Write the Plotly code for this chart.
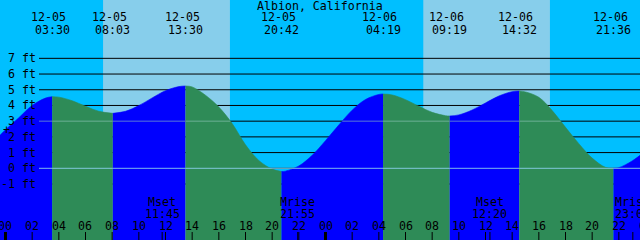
import plotly.graph_objects as go

W, H = 640, 240
FONT = "DejaVu Sans Mono"
FS = 11.6

title = "Albion, California"

# tide extremes
ext_stamp = ["12-05 03:30", "12-05 08:03", "12-05 13:30", "12-05 20:42",
             "12-06 04:19", "12-06 09:19", "12-06 14:32", "12-06 21:36"]
ext_ft = [4.56, 3.50, 5.24, -0.20, 4.73, 3.33, 4.92, 0.00]

# hourly tide heights (hours since 12-05 00:00)
sample_hours = [-1, 0, 1, 2, 3, 4, 5, 6, 7, 9, 10, 11, 12, 13, 14, 15, 16, 17, 18,
                19, 20, 21, 22, 23, 24, 25, 26, 27, 28, 29, 30, 31, 32, 33, 34, 35,
                36, 37, 38, 39, 40, 41, 42, 43, 44, 45, 46, 47, 48]
sample_ft = [1.6, 2.45, 3.22, 4.0, 4.47, 4.53, 4.30, 3.95, 3.63, 3.63, 3.99, 4.48,
             4.94, 5.20, 5.18, 4.65, 3.9, 2.85, 1.5, 0.5, -0.05, -0.18, 0.15, 0.83,
             1.76, 2.76, 3.70, 4.38, 4.70, 4.67, 4.37, 3.95, 3.56, 3.35, 3.40, 3.71,
             4.16, 4.60, 4.88, 4.86, 4.52, 3.68, 2.61, 1.57, 0.65, 0.06, 0.04, 0.47, 1.1]

sunrise = ["12-05 07:19", "12-06 07:20"]
sunset = ["12-05 16:50", "12-06 16:50"]

moon_names = ["Mset", "Mrise", "Mset", "Mrise"]
moon_stamp = ["12-05 11:45", "12-05 21:55", "12-06 12:20", "12-06 23:03"]

depth_levels = [-1, 0, 1, 2, 3, 4, 5, 6, 7]
middle_level = 3
datum_level = 0
hour_ticks = list(range(0, 50, 2))

# colours
NIGHT = "#00BFFF"
DAY = "#87CEEB"
RISING = "#0000FF"
FALLING = "#2E8B57"
MIDDLE_COL = "rgba(150,200,190,0.6)"
DATUM_COL = "rgba(140,205,235,0.9)"

DAY_OFF = {"12-05": 0, "12-06": 24}


def hours(stamp):
    d, t = stamp.split()
    hh, mm = t.split(":")
    return DAY_OFF[d] + int(hh) + int(mm) / 60.0


# axis ranges (pixel-calibrated)
X0, X1 = -0.4125, 47.5875
Y0, Y1 = -4.564, 10.713
LINE_START = 39 / W  # depth lines start right of the labels


def xp(t):
    return (t - X0) / (X1 - X0)


def yp(px):
    return 1 - px / H


ext_h = [hours(s) for s in ext_stamp]

# merged tide series
pts = sorted(list(zip(sample_hours, sample_ft)) + list(zip(ext_h, ext_ft)))

fig = go.Figure()

# split into segments between extremes
bounds = [sample_hours[0]] + ext_h + [sample_hours[-1]]
for i in range(len(bounds) - 1):
    a, b = bounds[i], bounds[i + 1]
    seg = [(t, v) for t, v in pts if a - 1e-9 <= t <= b + 1e-9]
    xs = [p[0] for p in seg]
    ys = [p[1] for p in seg]
    if i < len(ext_h):
        prev_val = ext_ft[i - 1] if i > 0 else None
        rising = (prev_val is None) or (ext_ft[i] > prev_val)
    else:
        rising = ext_ft[-1] < ext_ft[-2]
    col = RISING if rising else FALLING
    fig.add_trace(go.Scatter(x=[xs[0], xs[-1]], y=[Y0 - 1, Y0 - 1], mode="lines",
                             line=dict(width=0, color=col), hoverinfo="skip",
                             showlegend=False))
    fig.add_trace(go.Scatter(x=xs, y=ys, mode="lines", fill="tonexty",
                             fillcolor=col, line=dict(width=0.6, color=col, shape="spline"),
                             hoverinfo="skip", showlegend=False))

# middle-level line visible only across the water
t_start = X0 + LINE_START * (X1 - X0)
mx, my = [], []
inside = False
for (t1, v1), (t2, v2) in zip(pts[:-1], pts[1:]):
    if (v1 - middle_level) * (v2 - middle_level) < 0:
        tc = t1 + (middle_level - v1) / (v2 - v1) * (t2 - t1)
        if v1 < middle_level:
            mx += [max(tc, t_start)]
            my += [middle_level]
        else:
            if tc > t_start:
                if not mx or mx[-1] is None:
                    mx += [t_start]
                    my += [middle_level]
                mx += [tc, None]
                my += [middle_level, None]
            elif mx and mx[-1] is not None:
                mx.pop()
                my.pop()
if mx and mx[-1] is not None:
    mx += [X1]
    my += [middle_level]
fig.add_trace(go.Scatter(x=mx, y=my, mode="lines", line=dict(color=MIDDLE_COL, width=1),
                         hoverinfo="skip", showlegend=False, connectgaps=False))

shapes = []
# daylight bands
for r, s in zip(sunrise, sunset):
    shapes.append(dict(type="rect", xref="x", yref="paper", x0=hours(r), x1=hours(s),
                       y0=0, y1=1, fillcolor=DAY, line=dict(width=0), layer="below"))
# depth lines (behind the water)
for k in depth_levels:
    shapes.append(dict(type="line", xref="paper", yref="y", x0=LINE_START, x1=1, y0=k, y1=k,
                       line=dict(color="black", width=1), layer="below"))
# datum line on top
shapes.append(dict(type="line", xref="paper", yref="y", x0=LINE_START, x1=1,
                   y0=datum_level, y1=datum_level,
                   line=dict(color=DATUM_COL, width=1), layer="above"))
# hour ticks
for h in hour_ticks:
    shapes.append(dict(type="line", xref="x", yref="paper", x0=h, x1=h, y0=0, y1=8 / H,
                       line=dict(color="black", width=3 if h % 24 == 0 else 1), layer="above"))
# moon event ticks
for s in moon_stamp:
    t = hours(s)
    shapes.append(dict(type="line", xref="x", yref="paper", x0=t, x1=t, y0=0, y1=8 / H,
                       line=dict(color="black", width=1), layer="above"))

ann = []
tf = dict(family=FONT, size=FS, color="black")


def add_text(x, y, text, xanchor="center", xshift=0, yref="paper"):
    ann.append(dict(x=x, y=y, xref="paper", yref=yref, text=text, showarrow=False,
                    xanchor=xanchor, yanchor="middle", xshift=xshift, font=tf,
                    borderpad=0, borderwidth=0))


add_text(0.5, yp(6), title)
for s, t in zip(ext_stamp, ext_h):
    d, tm = s.split()
    add_text(xp(t), yp(17.5), d, xshift=-3.5)
    add_text(xp(t), yp(29.5), tm)
for k in depth_levels:
    add_text(36 / W, k, f"{k} ft", xanchor="right", yref="y")
add_text(6 / W, yp(129.5), "+")
for h in hour_ticks:
    add_text(xp(h), yp(226), f"{h % 24:02d}")
for n, s in zip(moon_names, moon_stamp):
    t = hours(s)
    add_text(xp(t), yp(201.5), n)
    add_text(xp(t), yp(213.5), s.split()[1])

fig.update_layout(
    width=W, height=H, margin=dict(l=0, r=0, t=0, b=0),
    paper_bgcolor=NIGHT, plot_bgcolor=NIGHT,
    xaxis=dict(range=[X0, X1], visible=False, fixedrange=True),
    yaxis=dict(range=[Y0, Y1], visible=False, fixedrange=True),
    shapes=shapes, annotations=ann, showlegend=False,
)
fig.write_html("out.html", config={"displayModeBar": False})
